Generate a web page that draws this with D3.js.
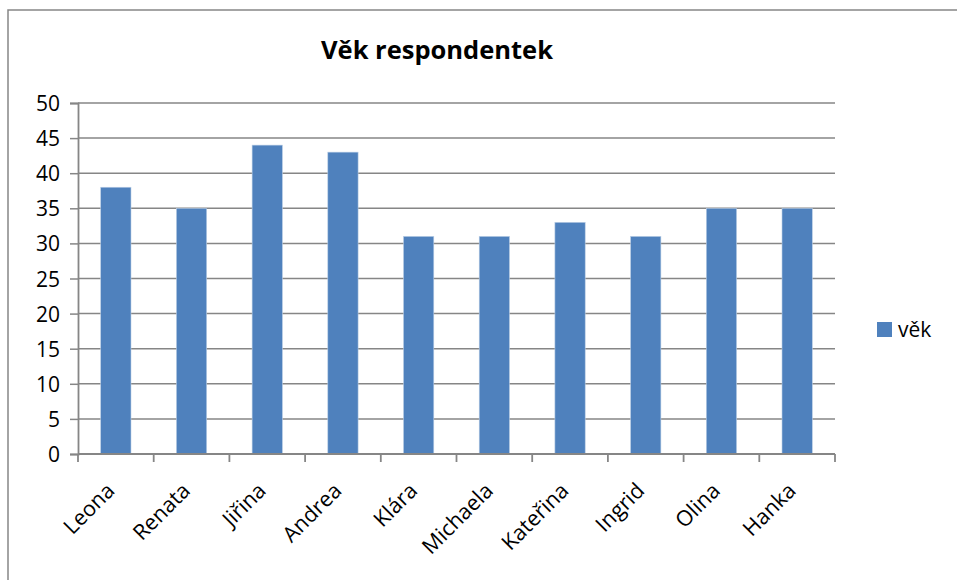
<!DOCTYPE html>
<html>
<head>
<meta charset="utf-8">
<script src="https://cdn.jsdelivr.net/npm/d3@7"></script>
<style>
  body { margin: 0; background: #fff; }
  svg text { font-family: "Open Sans", sans-serif; fill: #000; }
</style>
</head>
<body>
<div id="chart"></div>
<script>
// data
const names = ["Leona", "Renata", "Jiřina", "Andrea", "Klára", "Michaela", "Kateřina", "Ingrid", "Olina", "Hanka"];
const ages = [38, 35, 44, 43, 31, 31, 33, 31, 35, 35];
const yTicks = [0, 5, 10, 15, 20, 25, 30, 35, 40, 45, 50];
const seriesName = "věk";
const chartTitle = "Věk respondentek";

const width = 957, height = 580;
const plot = {left: 78, right: 835, top: 103, bottom: 454};
const barColor = "#4f81bd";
const lineColor = "#868686";

const svg = d3.select("#chart").append("svg")
    .attr("width", width)
    .attr("height", height);

// outer frame
svg.append("rect")
    .attr("x", 8).attr("y", 10)
    .attr("width", 970).attr("height", 600)
    .attr("fill", "none")
    .attr("stroke", lineColor)
    .attr("stroke-width", 1.5);

const x = d3.scaleBand()
    .domain(names)
    .range([plot.left, plot.right])
    .paddingInner(0.6)
    .paddingOuter(0.3);

const xBand = d3.scaleBand()
    .domain(names)
    .range([plot.left, plot.right]);

const y = d3.scaleLinear()
    .domain([0, 50])
    .range([plot.bottom, plot.top]);

// gridlines
svg.append("g")
    .selectAll("line")
    .data(yTicks.slice(1))
    .join("line")
    .attr("x1", plot.left).attr("x2", plot.right)
    .attr("y1", d => y(d)).attr("y2", d => y(d))
    .attr("stroke", lineColor)
    .attr("stroke-width", 1.5);

// bars
svg.append("g")
    .selectAll("rect")
    .data(ages)
    .join("rect")
    .attr("x", (d, i) => x(names[i]))
    .attr("y", d => y(d))
    .attr("width", x.bandwidth())
    .attr("height", d => y(0) - y(d))
    .attr("fill", barColor)
    .attr("stroke", "#b9cde5")
    .attr("stroke-width", 0.6);

// y axis
const yAxis = svg.append("g")
    .attr("transform", `translate(${plot.left},0)`)
    .call(d3.axisLeft(y).tickValues(yTicks).tickSize(8).tickPadding(10));
yAxis.select(".domain").attr("stroke", lineColor).attr("stroke-width", 1.8);
yAxis.selectAll(".tick line").attr("stroke", lineColor).attr("stroke-width", 1.5);
yAxis.selectAll(".tick text")
    .attr("font-family", "Open Sans")
    .attr("font-size", 21)
    .attr("dy", "0.36em")
    .attr("fill", "#000");

// x axis
const xAxis = svg.append("g")
    .attr("transform", `translate(0,${plot.bottom})`);
xAxis.append("line")
    .attr("x1", plot.left).attr("x2", plot.right)
    .attr("y1", 0).attr("y2", 0)
    .attr("stroke", lineColor).attr("stroke-width", 1.8);
xAxis.selectAll(".xtick")
    .data(names.concat(["end"]))
    .join("line")
    .attr("class", "xtick")
    .attr("x1", (d, i) => i < names.length ? xBand(d) : plot.right)
    .attr("x2", (d, i) => i < names.length ? xBand(d) : plot.right)
    .attr("y1", 0).attr("y2", 8)
    .attr("stroke", lineColor).attr("stroke-width", 1.8);
xAxis.selectAll(".xlabel")
    .data(names)
    .join("text")
    .attr("class", "xlabel")
    .attr("transform", d => `translate(${xBand(d) + xBand.bandwidth() / 2},${38}) rotate(-45)`)
    .attr("text-anchor", "end")
    .attr("font-size", 21.5)
    .text(d => d);

// title
svg.append("text")
    .attr("x", 437).attr("y", 59)
    .attr("text-anchor", "middle")
    .attr("font-size", 25.5)
    .attr("font-weight", "bold")
    .text(chartTitle);

// legend
svg.append("rect")
    .attr("x", 877).attr("y", 322)
    .attr("width", 15).attr("height", 15)
    .attr("fill", barColor);
svg.append("text")
    .attr("x", 898).attr("y", 337)
    .attr("font-size", 21)
    .text(seriesName);
</script>
</body>
</html>
